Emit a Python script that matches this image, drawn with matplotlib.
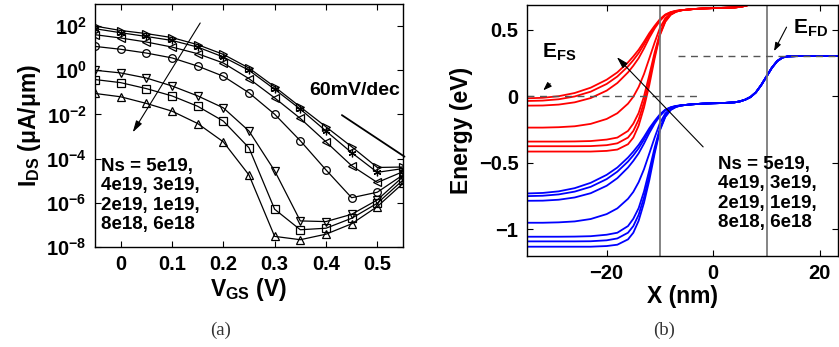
import matplotlib
matplotlib.use("Agg")
import matplotlib.pyplot as plt
import matplotlib.ticker as mticker
import numpy as np

plt.rcParams['font.family'] = ['Liberation Sans', 'DejaVu Sans']
plt.rcParams['font.weight'] = 'bold'
plt.rcParams['axes.labelweight'] = 'bold'
plt.rcParams['mathtext.fontset'] = 'custom'
plt.rcParams['mathtext.rm'] = 'Liberation Sans:bold'
plt.rcParams['mathtext.it'] = 'Liberation Sans:bold'
plt.rcParams['mathtext.bf'] = 'Liberation Sans:bold'
plt.rcParams['mathtext.default'] = 'rm'

# (a) I_DS vs V_GS, log10 of current in uA/um, one row per source doping
vgs = [-0.05, 0, 0.05, 0.1, 0.15, 0.2, 0.25, 0.3, 0.35, 0.4, 0.45, 0.5, 0.55]
dopings = ['5e19', '4e19', '3e19', '2e19', '1e19', '8e18', '6e18']
log_ids = [
    [2.00, 1.80, 1.66, 1.48, 1.16, 0.72, 0.10, -0.75, -1.66, -2.56, -3.46, -4.40, -4.38],
    [1.88, 1.70, 1.53, 1.35, 1.05, 0.60, 0.00, -0.86, -1.76, -2.75, -3.73, -4.62, -4.45],
    [1.61, 1.46, 1.28, 1.05, 0.75, 0.33, -0.38, -1.25, -2.18, -3.24, -4.32, -5.08, -4.59],
    [1.08, 0.95, 0.78, 0.56, 0.19, -0.27, -1.02, -1.99, -3.19, -4.51, -5.77, -5.52, -4.74],
    [0.00, -0.12, -0.35, -0.71, -1.16, -1.70, -2.75, -4.55, -6.82, -6.85, -6.52, -5.87, -4.82],
    [-0.42, -0.56, -0.83, -1.16, -1.63, -2.30, -3.51, -6.29, -7.22, -7.15, -6.70, -6.02, -4.97],
    [-1.05, -1.20, -1.50, -1.85, -2.41, -3.24, -4.74, -7.52, -7.67, -7.42, -6.95, -6.17, -5.12],
]
markers = ['>', (6, 2, 0), '<', 'o', 'v', 's', '^']

# (b) band diagram: source part differs per doping, channel/drain part is shared
x_src = [-35, -32, -29, -26, -23, -20, -18, -16, -15, -14, -13, -12, -11, -10, -9, -8, -7]
ev_src = [
    [-0.730, -0.726, -0.714, -0.690, -0.650, -0.590, -0.535, -0.460, -0.415, -0.365, -0.305, -0.240, -0.185, -0.135, -0.100, -0.082, -0.072],
    [-0.750, -0.747, -0.737, -0.716, -0.680, -0.622, -0.566, -0.490, -0.443, -0.390, -0.325, -0.255, -0.195, -0.140, -0.103, -0.084, -0.073],
    [-0.785, -0.784, -0.777, -0.760, -0.728, -0.672, -0.615, -0.535, -0.485, -0.428, -0.355, -0.275, -0.205, -0.147, -0.106, -0.086, -0.074],
    [-0.950, -0.950, -0.947, -0.940, -0.922, -0.885, -0.842, -0.770, -0.718, -0.645, -0.548, -0.430, -0.310, -0.200, -0.128, -0.093, -0.076],
    [-1.055, -1.055, -1.055, -1.054, -1.051, -1.040, -1.025, -0.975, -0.920, -0.840, -0.715, -0.555, -0.385, -0.240, -0.145, -0.098, -0.078],
    [-1.090, -1.090, -1.090, -1.090, -1.089, -1.082, -1.068, -1.025, -0.975, -0.890, -0.760, -0.595, -0.410, -0.248, -0.150, -0.100, -0.079],
    [-1.130, -1.130, -1.130, -1.130, -1.130, -1.125, -1.115, -1.075, -1.025, -0.935, -0.800, -0.630, -0.430, -0.255, -0.155, -0.103, -0.080],
]
ec_src = [
    [-0.015, -0.011, 0.001, 0.025, 0.065, 0.125, 0.180, 0.255, 0.300, 0.350, 0.410, 0.475, 0.530, 0.580, 0.615, 0.633, 0.643],
    [-0.035, -0.032, -0.022, -0.001, 0.035, 0.093, 0.149, 0.225, 0.272, 0.325, 0.390, 0.460, 0.520, 0.575, 0.612, 0.631, 0.642],
    [-0.070, -0.069, -0.062, -0.045, -0.013, 0.043, 0.100, 0.180, 0.230, 0.287, 0.360, 0.440, 0.510, 0.568, 0.609, 0.629, 0.641],
    [-0.235, -0.235, -0.232, -0.225, -0.207, -0.170, -0.127, -0.055, -0.003, 0.070, 0.167, 0.285, 0.405, 0.515, 0.587, 0.622, 0.639],
    [-0.340, -0.340, -0.340, -0.339, -0.336, -0.325, -0.310, -0.260, -0.205, -0.125, 0.000, 0.160, 0.330, 0.475, 0.570, 0.617, 0.637],
    [-0.375, -0.375, -0.375, -0.375, -0.374, -0.367, -0.353, -0.310, -0.260, -0.175, -0.045, 0.120, 0.305, 0.467, 0.565, 0.615, 0.636],
    [-0.415, -0.415, -0.415, -0.415, -0.415, -0.410, -0.400, -0.360, -0.310, -0.220, -0.085, 0.085, 0.285, 0.460, 0.560, 0.612, 0.635],
]
x_tail_v = [-6, -4, -2, 0, 2, 4, 5, 6, 7, 8, 9, 10, 11, 12, 13, 14, 16, 20, 24]
ev_tail = [-0.068, -0.060, -0.055, -0.052, -0.050, -0.045, -0.038, -0.025, -0.005, 0.030,
           0.085, 0.150, 0.215, 0.265, 0.292, 0.300, 0.303, 0.303, 0.303]
x_tail_c = [-6, -4, -2, 0, 2, 4, 5, 6, 7, 8]
ec_tail = [0.647, 0.655, 0.660, 0.663, 0.665, 0.668, 0.672, 0.680, 0.692, 0.705]

efs = 0.0
efd = 0.3
gate_edges = [-10, 10]

fig = plt.figure(figsize=(8.39, 3.47), dpi=100)
ax1 = fig.add_axes([0.1132, 0.2882, 0.3671, 0.7003])
ax2 = fig.add_axes([0.6278, 0.2622, 0.3710, 0.7248])

# ---- panel (a)
for row, m in zip(log_ids, markers):
    ax1.semilogy(vgs, 10.0 ** np.array(row), color='k', lw=0.9, marker=m,
                 ms=5.5, mfc='none', mec='k', mew=0.9)
ax1.set_xlim(-0.05, 0.55)
ax1.set_ylim(1e-8, 1e3)
ax1.set_yticks([1e-8, 1e-6, 1e-4, 1e-2, 1e0, 1e2])
ax1.yaxis.set_minor_locator(mticker.NullLocator())
ax1.set_xticks([0, 0.1, 0.2, 0.3, 0.4, 0.5])
ax1.set_xticklabels(['0', '0.1', '0.2', '0.3', '0.4', '0.5'])
ax1.set_xlabel('V$_{GS}$ (V)', fontsize=16.5, labelpad=1)
ax1.set_ylabel('I$_{DS}$ (μA/μm)', fontsize=16.5, labelpad=2)

ax1.annotate('', xy=(0.0235, 10 ** -2.81), xytext=(0.155, 10 ** 2.14),
             arrowprops=dict(arrowstyle='-|>,head_length=0.7,head_width=0.2',
                             color='k', lw=0.8, shrinkA=0, shrinkB=0))
ax1.annotate('', xy=(0.553, 10 ** -3.91), xytext=(0.431, 10 ** -2.03),
             annotation_clip=False,
             arrowprops=dict(arrowstyle='-', color='k', lw=1.3, shrinkA=0, shrinkB=0))
ax1.text(0.368, 10 ** -0.9, '60mV/dec', fontsize=14, ha='left', va='center')
ns_text = 'Ns = ' + ', '.join(dopings[:1]) + ',\n' + ', '.join(dopings[1:3]) + ',\n' + \
          ', '.join(dopings[3:5]) + ',\n' + ', '.join(dopings[5:])
ax1.text(-0.038, 10 ** -3.95, ns_text, fontsize=13.5, ha='left', va='top',
         linespacing=1.2)

# ---- panel (b)
for ev, ec in zip(ev_src, ec_src):
    ax2.plot(x_src + x_tail_c, ec + ec_tail, color='#ff0000', lw=1.3)
    ax2.plot(x_src + x_tail_v, ev + ev_tail, color='#0000ff', lw=1.3)
for xg in gate_edges:
    ax2.axvline(xg, color='#707070', lw=1.2)
ax2.plot([-35, -3], [efs, efs], ls='--', color='#555555', lw=1.0, dashes=(5, 4))
ax2.plot([-6.6, 25], [efd, efd], ls='--', color='#555555', lw=1.0, dashes=(5, 4))

ax2.set_xlim(-35, 23.4)
ax2.set_ylim(-1.2, 0.69)
ax2.set_xticks([-20, 0, 20])
ax2.set_yticks([-1, -0.5, 0, 0.5])
ax2.set_yticklabels(['−1', '−0.5', '0', '0.5'])
ax2.set_xticklabels(['−20', '0', '20'])
ax2.set_xlabel('X (nm)', fontsize=16.5, labelpad=1)
ax2.set_ylabel('Energy (eV)', fontsize=16.5, labelpad=4)

ax2.text(-32.2, 0.33, 'E$_{FS}$', fontsize=15, ha='left', va='center')
ax2.annotate('', xy=(-31.9, 0.045), xytext=(-30.6, 0.095),
             arrowprops=dict(arrowstyle='-|>,head_length=0.5,head_width=0.18',
                             color='k', lw=0.8, shrinkA=0, shrinkB=0))
ax2.text(15.0, 0.51, 'E$_{FD}$', fontsize=15, ha='left', va='center')
ax2.annotate('', xy=(11.4, 0.34), xytext=(13.75, 0.52),
             arrowprops=dict(arrowstyle='-|>,head_length=0.5,head_width=0.18',
                             color='k', lw=0.8, shrinkA=0, shrinkB=0))
ax2.annotate('', xy=(-18.1, 0.295), xytext=(-1.9, -0.38),
             arrowprops=dict(arrowstyle='-|>,head_length=0.7,head_width=0.2',
                             color='k', lw=0.8, shrinkA=0, shrinkB=0))
ax2.text(0.8, -0.445, ns_text, fontsize=13.5, ha='left', va='top', linespacing=1.2)

for ax in (ax1, ax2):
    ax.tick_params(direction='in', length=4, width=0.8, top=True, right=True,
                   labelsize=14.5, pad=6)
    for sp in ax.spines.values():
        sp.set_linewidth(1.0)

fig.text(0.2625, 0.048, '(a)', fontsize=13.5, family='Liberation Serif',
         weight='normal', color='#333333', ha='center', va='center')
fig.text(0.7915, 0.048, '(b)', fontsize=13.5, family='Liberation Serif',
         weight='normal', color='#333333', ha='center', va='center')

fig.savefig('out.png', dpi=100)
